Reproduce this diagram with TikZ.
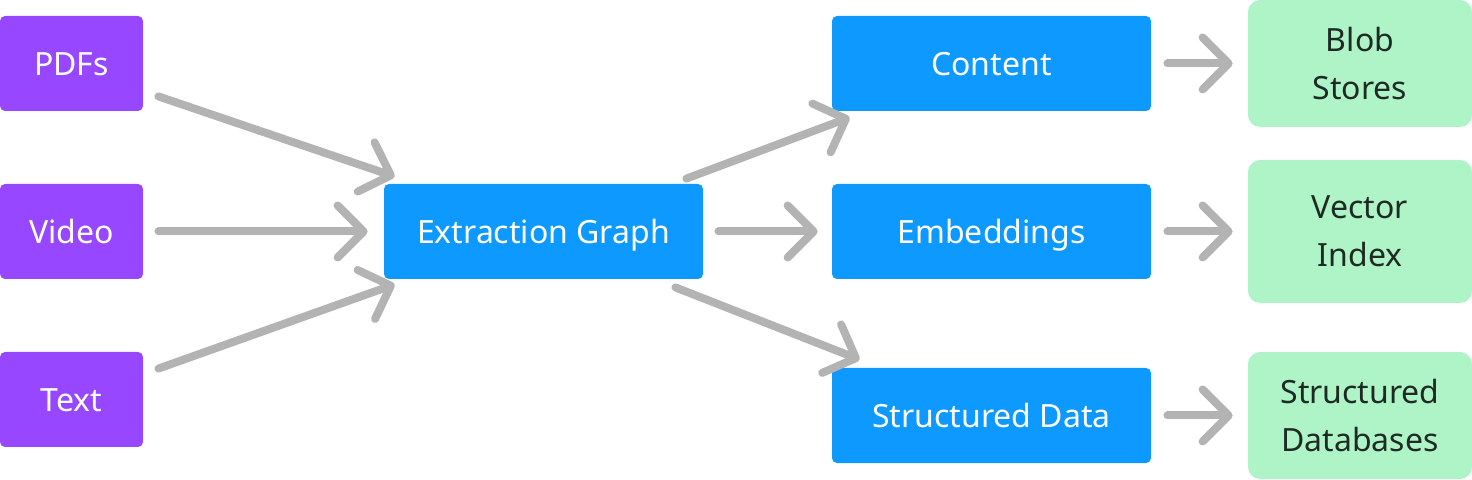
\documentclass[tikz,border=0pt]{standalone}
\usepackage{fontspec}
\setmainfont{Noto Sans}
\usetikzlibrary{arrows.meta,calc}
\definecolor{srcpurple}{HTML}{9747FF}
\definecolor{stepblue}{HTML}{0D99FF}
\definecolor{storegreen}{HTML}{AFF4C6}
\definecolor{storetext}{HTML}{1E2A24}
\definecolor{conngray}{HTML}{B3B3B3}

\begin{document}
\begin{tikzpicture}[
        x=0.5pt,y=-0.5pt,
        source/.style={fill=srcpurple,text=white,rounded corners=2.5pt,
          minimum width=71.5pt,minimum height=47.5pt,inner sep=0pt,
          text height=16pt,text depth=3.6pt,font=\fontsize{16}{19}\selectfont},
        stage/.style={fill=stepblue,text=white,rounded corners=2.5pt,
          minimum width=159.5pt,minimum height=47.5pt,inner sep=0pt,
          text height=16pt,text depth=3.6pt,font=\fontsize{16}{19}\selectfont},
        store/.style={fill=storegreen,text=storetext,rounded corners=6pt,
          minimum width=112pt,minimum height=63.5pt,inner sep=0pt,align=center,
          font=\fontsize{16}{24}\selectfont},
        conn/.style={draw=conngray,line width=4pt,line cap=round,
          -{Straight Barb[length=13pt,width=26pt,round]}}
      ]
      \useasboundingbox (0,0) rectangle (1472,480);
      % sources
      \node (pdfs) [source] at (71.5,63.5) {PDFs};
      \node (video) [source] at (71.5,231.5) {Video};
      \node (text) [source] at (71.5,399.5) {Text};
      % extraction
      \node (eg) [stage] at (543.5,231.5) {Extraction Graph};
      \node (content) [stage] at (991.5,63.5) {Content};
      \node (embed) [stage] at (991.5,231.5) {Embeddings};
      \node (sdata) [stage] at (991.5,415.5) {Structured Data};
      % stores
      \node (blob) [store] at (1360,63.5) {Blob\\Stores};
      \node (vector) [store,minimum height=71.5pt] at (1360,231.5) {Vector\\Index};
      \node (sdb) [store] at (1360,415.5) {Structured\\Databases};
      % connectors
      \draw[conn] ($(pdfs.south east)+(15,-15)$) -- ($(eg.north west)+(11,-7)$);
      \draw[conn] ($(video.east)+(15,0)$) -- ($(eg.west)+(-16,0)$);
      \draw[conn] ($(text.north east)+(15,17)$) -- ($(eg.south west)+(11,5)$);
      \draw[conn] ($(eg.north east)+(-17,-5)$) -- ($(content.south west)+(18,6)$);
      \draw[conn] ($(eg.east)+(15,0)$) -- ($(embed.west)+(-14,0)$);
      \draw[conn] ($(eg.south east)+(-28,8)$) -- ($(sdata.north west)+(28,-8)$);
      \draw[conn] ($(content.east)+(16,0)$) -- ($(blob.west)+(-15,0)$);
      \draw[conn] ($(embed.east)+(16,0)$) -- ($(vector.west)+(-15,0)$);
      \draw[conn] ($(sdata.east)+(16,0)$) -- ($(sdb.west)+(-15,0)$);
    \end{tikzpicture}
\end{document}
